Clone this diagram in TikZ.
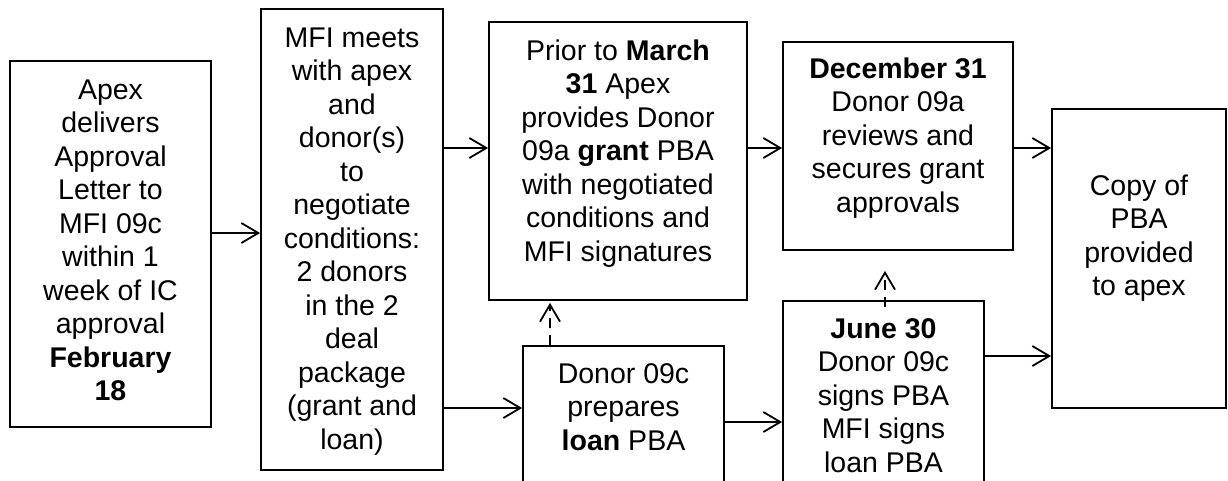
\documentclass[tikz,border=0pt]{standalone}
\usepackage{fontspec}
\setmainfont{Liberation Sans}
\usetikzlibrary{arrows.meta}
\newcommand{\flowfont}{\fontsize{28.5}{33.5}\selectfont}
\begin{document}
\begin{tikzpicture}[x=1pt,y=-1pt,
  stepbox/.style={draw,line width=1.8pt,inner sep=0pt,outer sep=0.9pt},
  steptext/.style={font=\flowfont,align=center,inner sep=0pt,anchor=north},
  arr/.style={line width=1.8pt,-{Straight Barb[length=17pt,width=20pt,line width=1.8pt]}},
  dasharr/.style={arr,dash pattern=on 10pt off 7pt}]
\useasboundingbox (0,0) rectangle (1228,480);
\clip (0,0) rectangle (1228,480);
\fill[white] (0,0) rectangle (1228,480);

% frames of the seven steps
\node[stepbox,minimum width=201pt,minimum height=366pt] (b1) at (110.5,244) {};
\node[stepbox,minimum width=182pt,minimum height=461pt] (b2) at (352,239.5) {};
\node[stepbox,minimum width=258pt,minimum height=278pt] (b3) at (618,161) {};
\node[stepbox,minimum width=230pt,minimum height=208pt] (b4) at (898,146) {};
\node[stepbox,minimum width=174pt,minimum height=299pt] (b5) at (1139,258.5) {};
\node[stepbox,minimum width=201pt,minimum height=154pt] (b6) at (623.5,423) {};
\node[stepbox,minimum width=201pt,minimum height=199pt] (b7) at (883.5,400.5) {};

% texts of the steps
\node[steptext] (t1) at (110.5,75.55) {\strut Apex\\delivers\\Approval\\Letter to\\MFI 09c\\within 1\\week of IC\\approval\\\textbf{February}\\\textbf{18}\strut};
\node[steptext] (t2) at (352,23.55) {\strut MFI meets\\with apex\\and\\donor(s)\\to\\negotiate\\conditions:\\2 donors\\in the 2\\deal\\package\\(grant and\\loan)\strut};
\node[steptext] (t3) at (618,36.55) {\strut Prior to \textbf{March}\\\textbf{31} Apex\\provides Donor\\09a \textbf{grant} PBA\\with negotiated\\conditions and\\MFI signatures\strut};
\node[steptext] (t4) at (898,54.55) {\strut\textbf{December 31}\\Donor 09a\\reviews and\\secures grant\\approvals\strut};
\node[steptext] (t5) at (1139,171.55) {\strut Copy of\\PBA\\provided\\to apex\strut};
\node[steptext] (t6) at (623.5,359.55) {\strut Donor 09c\\prepares\\\textbf{loan} PBA\strut};
\node[steptext] (t7) at (883.5,314.55) {\strut\textbf{June 30}\\Donor 09c\\signs PBA\\MFI signs\\loan PBA\strut};

% connector levels
\coordinate (ya) at (0,233);
\coordinate (yb) at (0,148);
\coordinate (yc) at (0,408);
\coordinate (yd) at (0,422);
\coordinate (ye) at (0,356);
\coordinate (xa) at (550,0);
\coordinate (xb) at (885,0);

% solid connectors
\draw[arr] (b1.east |- ya) -- (b2.west |- ya);
\draw[arr] (b2.east |- yb) -- (b3.west |- yb);
\draw[arr] (b2.east |- yc) -- (b6.west |- yc);
\draw[arr] (b3.east |- yb) -- (b4.west |- yb);
\draw[arr] (b4.east |- yb) -- (b5.west |- yb);
\draw[arr] (b6.east |- yd) -- (b7.west |- yd);
\draw[arr] (b7.east |- ye) -- (b5.west |- ye);

% dashed connectors
\draw[dasharr] (b6.north -| xa) -- ([yshift=-2pt]b3.south -| xa);
\draw[dasharr] ([yshift=-7pt]b7.north -| xb) -- ([yshift=-20pt]b4.south -| xb);
\end{tikzpicture}
\end{document}
